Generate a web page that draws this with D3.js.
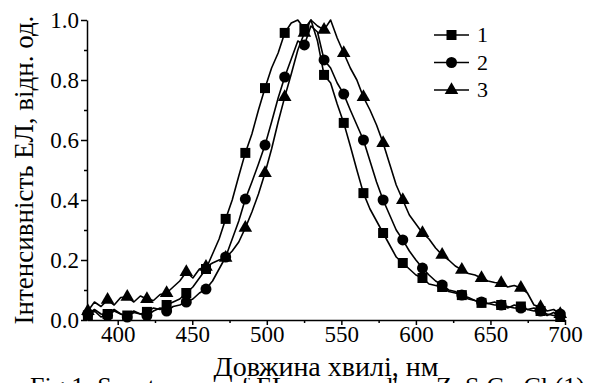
<!DOCTYPE html>
<html>
<head>
<meta charset="utf-8">
<script src="https://cdn.jsdelivr.net/npm/d3@7"></script>
<style>
  body { margin: 0; background: #fff; }
  svg { display: block; }
  .axis path, .axis line { stroke: #000; stroke-width: 1.5; }
  .curve { fill: none; stroke: #000; stroke-width: 1.6; stroke-linejoin: round; }
</style>
</head>
<body>
<div id="chart"></div>
<script>
// wavelength grid, nm (step 4.4 nm, markers on every 3rd point)
const wavelengths = d3.range(73).map(i => 380 + 4.4 * i);

// EL intensity, normalised
const series1 = [
  0.015, 0.03, 0.01, 0.02, 0.035, 0.02, 0.015, 0.03, 0.02, 0.027,
  0.04, 0.035, 0.05, 0.06, 0.07, 0.09, 0.11, 0.14, 0.17, 0.22,
  0.27, 0.337, 0.40, 0.48, 0.557, 0.62, 0.70, 0.773, 0.84, 0.89,
  0.957, 0.99, 1.0, 0.97, 1.0, 0.93, 0.817, 0.79, 0.72, 0.657,
  0.58, 0.50, 0.423, 0.37, 0.33, 0.29, 0.25, 0.21, 0.19, 0.17,
  0.15, 0.14, 0.12, 0.115, 0.11, 0.095, 0.09, 0.083, 0.07, 0.065,
  0.057, 0.055, 0.06, 0.05, 0.04, 0.05, 0.045, 0.035, 0.04, 0.03,
  0.015, 0.025, 0.01
];
const series2 = [
  0.02, 0.035, 0.02, 0.015, 0.03, 0.02, 0.01, 0.025, 0.02, 0.015,
  0.03, 0.04, 0.03, 0.045, 0.05, 0.06, 0.07, 0.09, 0.103, 0.13,
  0.17, 0.21, 0.27, 0.33, 0.403, 0.46, 0.52, 0.583, 0.66, 0.74,
  0.81, 0.87, 0.93, 0.917, 0.98, 0.96, 0.867, 0.84, 0.79, 0.753,
  0.70, 0.65, 0.60, 0.53, 0.46, 0.40, 0.35, 0.30, 0.267, 0.23,
  0.20, 0.173, 0.15, 0.13, 0.117, 0.10, 0.095, 0.083, 0.075, 0.065,
  0.06, 0.055, 0.05, 0.05, 0.045, 0.04, 0.04, 0.035, 0.03, 0.03,
  0.02, 0.015, 0.02
];
const series3 = [
  0.03, 0.06, 0.045, 0.067, 0.05, 0.075, 0.077, 0.06, 0.08, 0.07,
  0.065, 0.085, 0.09, 0.11, 0.13, 0.16, 0.14, 0.17, 0.177, 0.19,
  0.20, 0.207, 0.23, 0.26, 0.307, 0.36, 0.42, 0.49, 0.57, 0.66,
  0.743, 0.82, 0.90, 0.957, 1.0, 0.98, 0.967, 1.0, 0.94, 0.89,
  0.84, 0.80, 0.743, 0.70, 0.65, 0.59, 0.52, 0.45, 0.40, 0.35,
  0.32, 0.29, 0.27, 0.24, 0.217, 0.20, 0.18, 0.167, 0.155, 0.15,
  0.14, 0.13, 0.125, 0.123, 0.11, 0.115, 0.107, 0.09, 0.05, 0.043,
  0.03, 0.035, 0.02
];

const seriesNames = ["1", "2", "3"];
const seriesValues = [series1, series2, series3];
const seriesSymbols = [d3.symbolSquare, d3.symbolCircle, d3.symbolTriangle];
const symbolSizes = [100, 95, 80];

const xMajorTicks = [400, 450, 500, 550, 600, 650, 700];
const xMinorTicks = [425, 475, 525, 575, 625, 675];
const yMajorTicks = [0, 0.2, 0.4, 0.6, 0.8, 1.0];
const yMinorTicks = [0.1, 0.3, 0.5, 0.7, 0.9];

const xTitle = "Довжина хвилі, нм";
const yTitle = "Інтенсивність ЕЛ, відн. од.";
// caption line below the figure, only its top shows
const captionParts = [
  {text: "Fig.1. Spectra", x: 30},
  {text: "of EL", x: 228},
  {text: "d'", x: 380},
  {text: "ZnS:Cu,Cl (1)", x: 436}
];

const FONT = "'Liberation Serif'";
const WIDTH = 597, HEIGHT = 383;
const LEFT = 87, RIGHT = 565, TOP = 20, BOTTOM = 320;
const MARKER_STEP = 3;

const svg = d3.select("#chart").append("svg")
  .attr("width", WIDTH)
  .attr("height", HEIGHT);

const x = d3.scaleLinear().domain([379.4, 700]).range([LEFT, RIGHT]);
const y = d3.scaleLinear().domain([0, 1]).range([BOTTOM, TOP]);

// caption (drawn first, partly hidden by the axis title)
svg.selectAll("text.caption")
  .data(captionParts)
  .join("text")
  .attr("class", "caption")
  .attr("x", d => d.x)
  .attr("y", 395)
  .style("font-family", FONT)
  .style("font-size", "26px")
  .text(d => d.text);

// curves
const line = d3.line()
  .x((d, i) => x(wavelengths[i]))
  .y(d => y(d));

seriesValues.forEach((vals, s) => {
  svg.append("path")
    .attr("class", "curve")
    .attr("d", line(vals));

  const marks = vals.map((v, i) => ({w: wavelengths[i], v: v}))
    .filter((d, i) => i % MARKER_STEP === 0);

  svg.append("g").selectAll("path")
    .data(marks)
    .join("path")
    .attr("transform", d => `translate(${x(d.w)},${y(d.v)})`)
    .attr("d", d3.symbol(seriesSymbols[s], symbolSizes[s]))
    .attr("fill", "#000");
});

// x axis
const xAxisG = svg.append("g")
  .attr("class", "axis")
  .attr("transform", `translate(0,${BOTTOM})`);
xAxisG.call(d3.axisBottom(x).tickValues(xMajorTicks).tickSize(5).tickSizeOuter(0).tickPadding(1));
xAxisG.append("g").call(d3.axisBottom(x).tickValues(xMinorTicks).tickSize(3).tickFormat(""))
  .select(".domain").remove();
xAxisG.selectAll("text")
  .style("font-family", FONT)
  .style("font-size", "23px");

// y axis
const yAxisG = svg.append("g")
  .attr("class", "axis")
  .attr("transform", `translate(${LEFT},0)`);
yAxisG.call(d3.axisLeft(y).tickValues(yMajorTicks).tickSize(6).tickSizeOuter(0).tickPadding(2)
  .tickFormat(d3.format(".1f")));
yAxisG.append("g").call(d3.axisLeft(y).tickValues(yMinorTicks).tickSize(3).tickFormat(""))
  .select(".domain").remove();
yAxisG.selectAll("text")
  .style("font-family", FONT)
  .style("font-size", "23px")
  .attr("dy", "0.34em");

// axis titles; the x title sits on a white box over the caption
const xt = svg.append("text")
  .attr("x", (LEFT + RIGHT) / 2)
  .attr("y", 376)
  .attr("text-anchor", "middle")
  .style("font-family", FONT)
  .style("font-size", "28px")
  .text(xTitle);
const bb = xt.node().getBBox();
svg.insert("rect", function() { return xt.node(); })
  .attr("x", bb.x - 3).attr("y", bb.y + 4)
  .attr("width", bb.width + 6).attr("height", 378 - (bb.y + 4))
  .attr("fill", "#fff");

svg.append("text")
  .attr("transform", `translate(33,${(TOP + BOTTOM) / 2}) rotate(-90)`)
  .attr("text-anchor", "middle")
  .style("font-family", FONT)
  .style("font-size", "27px")
  .text(yTitle);

// legend
const legend = svg.append("g").attr("transform", "translate(434,35)");
seriesNames.forEach((name, s) => {
  const g = legend.append("g").attr("transform", `translate(0,${s * 27.5})`);
  g.append("line").attr("x1", 0).attr("x2", 35).attr("y1", 0).attr("y2", 0)
    .attr("stroke", "#000").attr("stroke-width", 1.6);
  g.append("path").attr("transform", "translate(17.5,0)")
    .attr("d", d3.symbol(seriesSymbols[s], symbolSizes[s]))
    .attr("fill", "#000");
  g.append("text").attr("x", 43).attr("y", 7)
    .style("font-family", FONT)
    .style("font-size", "22px")
    .text(name);
});
</script>
</body>
</html>
